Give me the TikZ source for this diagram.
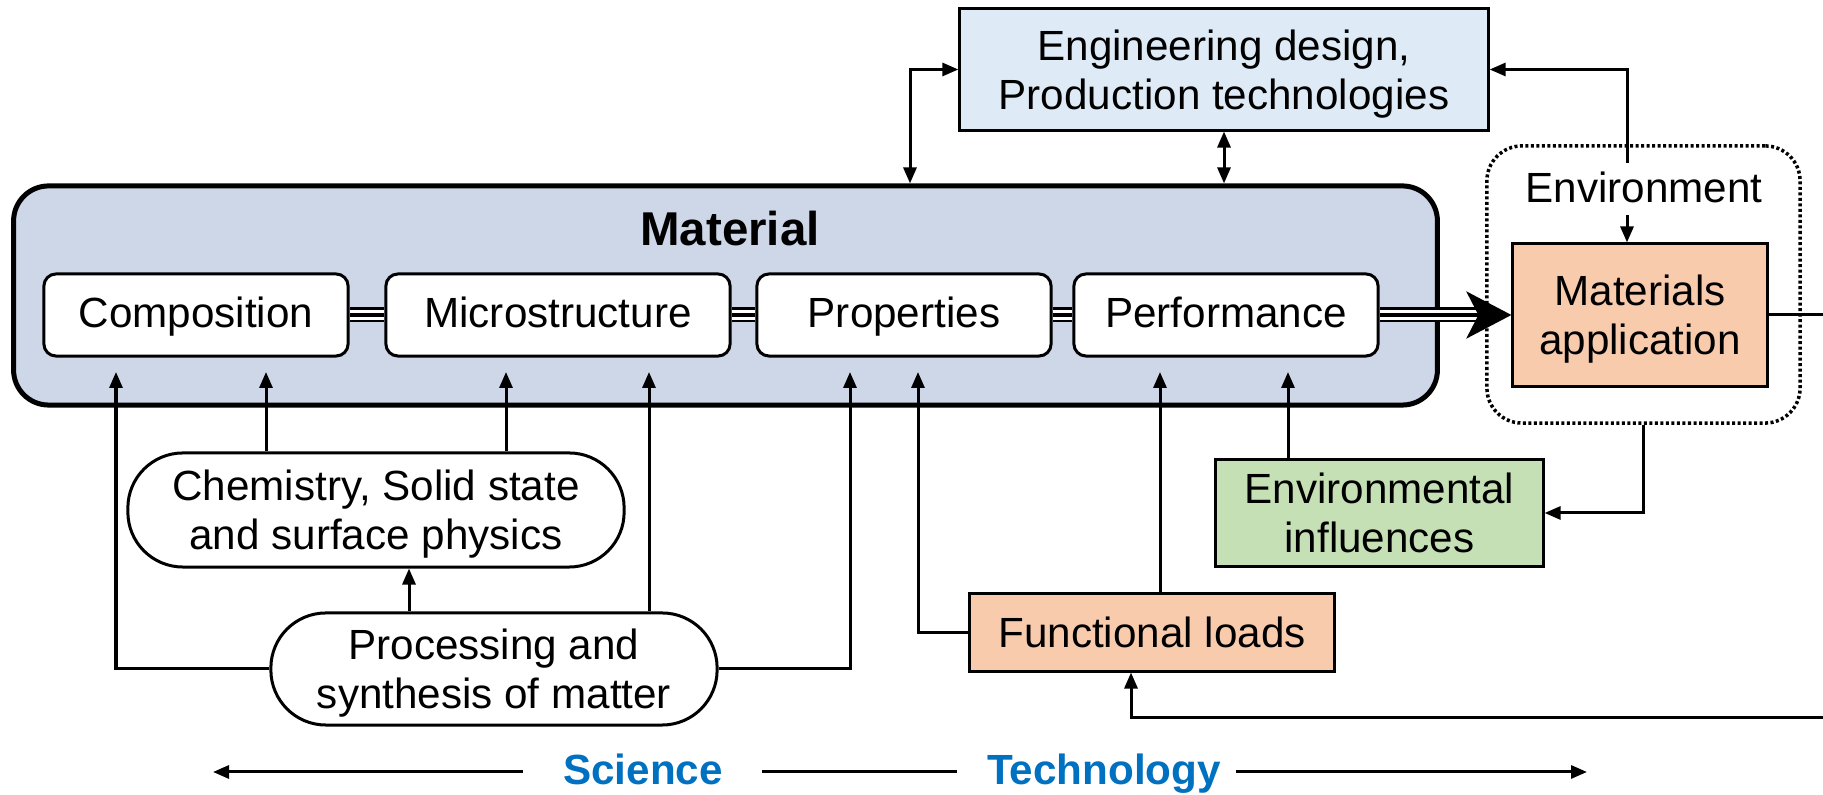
\documentclass[tikz,border=0pt]{standalone}
\usepackage{fontspec}
\setmainfont{Liberation Sans}
\usepackage{tikz}
\usetikzlibrary{arrows.meta}

\definecolor{matblue}{RGB}{206,215,232}
\definecolor{engblue}{RGB}{222,235,247}
\definecolor{peach}{RGB}{248,203,173}
\definecolor{leaf}{RGB}{197,224,180}
\definecolor{techblue}{RGB}{0,112,192}

\begin{document}
\begin{tikzpicture}[x=0.01cm, y=-0.01cm,
  txt/.style={font=\fontsize{12}{14}\selectfont, align=center, text depth=0pt},
  inbox/.style={txt, draw, fill=white, line width=0.03cm, rounded corners=0.12cm, minimum height=0.82cm, text height=0.72em},
  sqbox/.style={txt, draw, line width=0.03cm, inner sep=0pt},
  pill/.style={txt, draw, fill=white, line width=0.03cm, rounded corners=0.55cm, inner sep=0pt},
  arr/.style={line width=0.03cm, -{Triangle[length=0.16cm, width=0.13cm]}},
  dblarr/.style={line width=0.03cm, {Triangle[length=0.16cm, width=0.13cm]}-{Triangle[length=0.16cm, width=0.13cm]}},
  triple/.style={line width=0.15cm, postaction={draw, white, line width=0.10cm}, postaction={draw, black, line width=0.04cm}},
  big/.style={line width=0.04cm, -{Stealth[length=0.45cm, width=0.47cm, inset=0.12cm]}},
  side/.style={font=\fontsize{12}{14}\selectfont\bfseries, text=techblue, text height=0.72em, text depth=0pt}]

   \useasboundingbox (0,0) rectangle (1823,795);

   \draw (725.5,295.5) node[draw, fill=matblue, line width=0.05cm, rounded corners=0.35cm, minimum width=14.23cm, minimum height=2.19cm] (mat) {};
   \draw (730,229) node[font=\fontsize{13.5}{16}\selectfont\bfseries] (matlbl) {Material};

   \draw (196,315) node[inbox, minimum width=3.04cm] (comp) {Composition};
   \draw (558,315) node[inbox, minimum width=3.44cm] (micro) {Microstructure};
   \draw (904,315) node[inbox, minimum width=2.94cm] (prop) {Properties};
   \draw (1226,315) node[inbox, minimum width=3.04cm] (perf) {Performance};

   \draw (1224,69.5) node[sqbox, fill=engblue, minimum width=5.28cm, minimum height=1.21cm] (eng) {Engineering design,\\Production technologies};

   \draw (1643.5,284.5) node[draw, line width=0.035cm, dash pattern=on 0.03cm off 0.025cm, rounded corners=0.35cm, minimum width=3.13cm, minimum height=2.77cm] (envbox) {};
   \draw (1644,187) node[txt] (envlbl) {Environment};
   \draw (1640,315) node[sqbox, fill=peach, minimum width=2.54cm, minimum height=1.42cm] (app) {Materials\\application};

   \draw (1379.5,513) node[sqbox, fill=leaf, minimum width=3.27cm, minimum height=1.06cm] (envinf) {Environmental\\influences};
   \draw (1152,632.5) node[sqbox, fill=peach, minimum width=3.64cm, minimum height=0.77cm] (func) {Functional loads};

   \draw (376,510) node[pill, minimum width=4.96cm, minimum height=1.14cm] (chem) {Chemistry, Solid state\\and surface physics};
   \draw (494,669) node[pill, minimum width=4.46cm, minimum height=1.12cm] (proc) {Processing and\\synthesis of matter};

   \draw (643,772) node[side] (sci) {Science};
   \draw (1104,772) node[side] (tech) {Technology};

   \coordinate (engL) at (910,0);
   \coordinate (envtop) at (1627,163);
   \coordinate (outR) at (1823,0);
   \coordinate (outB) at (1823,718);
   \coordinate (fx) at (1131,0);
   \coordinate (pc) at (409,0);
   \coordinate (sl) at (213,0);
   \coordinate (sr) at (1587,0);
   \coordinate (a1) at (116,372);
   \coordinate (a2) at (266,372);
   \coordinate (a3) at (506,372);
   \coordinate (a4) at (649,372);
   \coordinate (a5) at (850,372);
   \coordinate (a6) at (918,372);
   \coordinate (a7) at (1160,372);
   \coordinate (a8) at (1288,372);
   \coordinate (appin) at ([xshift=-0.3cm]app.west);

   \draw[triple] (comp.east) -- (micro.west);
   \draw[triple] (micro.east) -- (prop.west);
   \draw[triple] (prop.east) -- (perf.west);
   \draw[triple] (perf.east) -- (appin);
   \draw[big] (perf.east) -- (app.west);
   \draw[line width=0.03cm] (app.east) -- (app.east -| outR);

   \draw[dblarr] (mat.north -| engL) |- (eng.west);
   \path[dblarr] (eng.south) edge (eng.south |- mat.north);
   \draw[arr] (envtop) |- (eng.east);
   \draw[arr] (envlbl.south -| envtop) -- (app.north -| envtop);
   \draw[arr] (envbox.south) |- (envinf.east);
   \draw[arr] (outB) -| (func.south -| fx);

   \draw[arr] (proc.west) -| (a1);
   \path[arr] (chem.north -| a2) edge (a2)
              (chem.north -| a3) edge (a3)
              (proc.north -| a4) edge (a4)
              (proc.north -| pc) edge (chem.south -| pc);
   \draw[arr] (proc.east) -| (a5);
   \draw[arr] (func.west) -| (a6);
   \path[arr] (func.north -| a7) edge (a7)
              (envinf.north -| a8) edge (a8);

   \draw[arr] ([xshift=-0.28cm]sci.west) -- (sci.west -| sl);
   \draw[line width=0.03cm] ([xshift=0.27cm]sci.east) -- ([xshift=-0.18cm]tech.west);
   \draw[arr] ([xshift=0.03cm]tech.east) -- (tech.east -| sr);

\end{tikzpicture}
\end{document}
